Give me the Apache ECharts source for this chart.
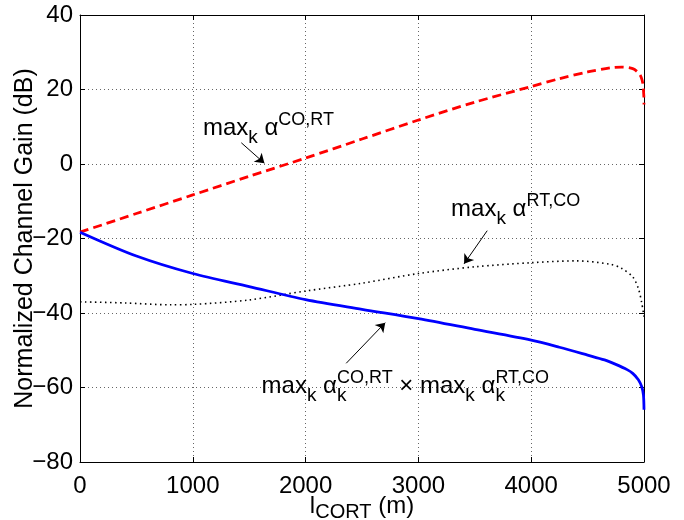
<!DOCTYPE html>
<html>
<head>
<meta charset="utf-8">
<script src="https://cdn.jsdelivr.net/npm/echarts@6/dist/echarts.min.js"></script>
<style>
  html, body { margin: 0; padding: 0; background: #fff; }
</style>
</head>
<body>
<div id="gainChart" style="width: 684px; height: 520px;"></div>
<script>
// distance along CO-RT link (m)
const xCoRt = [0, 500, 1000, 1500, 2000, 2500, 3000, 3500, 4000, 4250, 4500, 4700, 4800, 4900, 4950, 4975, 4990, 4998, 5000];
const yCoRt = [-18.3, -13.3, -8.3, -3.3, 1.6, 6.7, 11.8, 16.6, 20.8, 22.9, 24.7, 25.8, 26.0, 25.6, 24.5, 23.3, 21.5, 18.5, 16.0];

const xRtCo = [0, 400, 800, 1000, 1500, 2000, 2500, 3000, 3500, 4000, 4400, 4700, 4800, 4900, 4950, 4980, 5000];
const yRtCo = [-37.0, -37.3, -37.8, -37.7, -36.5, -34.1, -32.0, -29.4, -27.6, -26.5, -26.0, -26.9, -28.0, -30.3, -33.4, -37.3, -41.0];

const xProd = [0, 500, 1000, 1500, 2000, 2500, 3000, 3500, 4000, 4250, 4500, 4650, 4750, 4850, 4900, 4950, 4980, 4995, 5000];
const yProd = [-18.3, -24.7, -29.4, -32.9, -36.4, -39.0, -41.5, -44.4, -47.3, -49.2, -51.3, -52.6, -53.8, -55.2, -56.2, -57.9, -59.8, -62.0, -66.0];

const xTicks = [0, 5000, 1000];
const yTicks = [-80, 40, 20];

// arrows: [from, to] in data coords
const arrowCoRt = [[1430, 5.7], [1635, 0.2]];
const arrowRtCo = [[3610, -17.9], [3405, -26.8]];
const arrowProd = [[2360, -53.5], [2706, -42.6]];

const FONT = "'Liberation Sans', Arial, Helvetica, sans-serif";

function pairs(xs, ys) {
  let out = [];
  for (let i = 0; i < xs.length; i++) out.push([xs[i], ys[i]]);
  return out;
}

function tickFmt(v) {
  return v < 0 ? "\u2212" + (-v) : String(v);
}

let chart = echarts.init(document.getElementById("gainChart"), null, { renderer: "canvas" });

const gridLine = { show: true, lineStyle: { color: "#666", width: 1, type: [1, 3] } };
const blackLine = { show: true, onZero: false, lineStyle: { color: "#000", width: 1 } };
const inTick = { show: true, inside: true, length: 5, lineStyle: { color: "#000" } };

let option = {
  animation: false,
  backgroundColor: "#fff",
  grid: { left: 80, right: 40, top: 15, bottom: 58, containLabel: false, outerBoundsMode: "none" },
  xAxis: [
    {
      type: "value", min: xTicks[0], max: xTicks[1], interval: xTicks[2],
      axisLine: blackLine, axisTick: inTick, splitLine: gridLine,
      axisLabel: { color: "#000", fontSize: 24, fontFamily: FONT, margin: 12, formatter: tickFmt },
      name: "{a|l}{b|CORT}{a| (m)}",
      nameLocation: "middle", nameGap: 32, nameMoveOverlap: false,
      nameTextStyle: {
        color: "#000", fontFamily: FONT,
        rich: {
          a: { fontSize: 24, fontFamily: FONT, color: "#000", lineHeight: 28, verticalAlign: "top" },
          b: { fontSize: 20, fontFamily: FONT, color: "#000", lineHeight: 28, verticalAlign: "bottom" }
        }
      }
    },
    {
      type: "value", position: "top", min: xTicks[0], max: xTicks[1], interval: xTicks[2],
      axisLine: blackLine, axisTick: inTick, splitLine: { show: false }, axisLabel: { show: false }
    }
  ],
  yAxis: [
    {
      type: "value", min: yTicks[0], max: yTicks[1], interval: yTicks[2],
      axisLine: blackLine, axisTick: inTick, splitLine: gridLine,
      axisLabel: { color: "#000", fontSize: 24, fontFamily: FONT, margin: 7, formatter: tickFmt },
      name: "Normalized Channel Gain (dB)",
      nameLocation: "middle", nameGap: 42, nameMoveOverlap: false,
      nameTextStyle: { color: "#000", fontSize: 25, fontFamily: FONT }
    },
    {
      type: "value", position: "right", min: yTicks[0], max: yTicks[1], interval: yTicks[2],
      axisLine: blackLine, axisTick: inTick, splitLine: { show: false }, axisLabel: { show: false }
    }
  ],
  series: [
    {
      name: "CO,RT", type: "line", showSymbol: false, smooth: 0.3,
      data: pairs(xCoRt, yCoRt),
      lineStyle: { color: "#ff0000", width: 2.8, type: [9, 5] },
      markLine: {
        silent: true, symbol: ["none", "arrow"], symbolSize: 9,
        lineStyle: { color: "#000", width: 1, type: "solid" },
        label: { show: false },
        data: [[{ coord: arrowCoRt[0] }, { coord: arrowCoRt[1] }]]
      }
    },
    {
      name: "RT,CO", type: "line", showSymbol: false, smooth: 0.3,
      data: pairs(xRtCo, yRtCo),
      lineStyle: { color: "#000", width: 1.6, type: [1.5, 3.5] },
      markLine: {
        silent: true, symbol: ["none", "arrow"], symbolSize: 9,
        lineStyle: { color: "#000", width: 1, type: "solid" },
        label: { show: false },
        data: [[{ coord: arrowRtCo[0] }, { coord: arrowRtCo[1] }]]
      }
    },
    {
      name: "product", type: "line", showSymbol: false, smooth: 0.3,
      data: pairs(xProd, yProd),
      lineStyle: { color: "#0000ff", width: 2.8 },
      markLine: {
        silent: true, symbol: ["none", "arrow"], symbolSize: 9,
        lineStyle: { color: "#000", width: 1, type: "solid" },
        label: { show: false },
        data: [[{ coord: arrowProd[0] }, { coord: arrowProd[1] }]]
      }
    }
  ]
};

chart.setOption(option);

// annotation texts with sub/superscripts, laid out piece by piece
let measureCtx = document.createElement("canvas").getContext("2d");
function textWidth(t, size) {
  measureCtx.font = size + "px " + FONT;
  return measureCtx.measureText(t).width;
}

// parts: {t, s, dy, stay}  dy = baseline offset, stay = do not advance
function buildLabel(x0, base, parts) {
  let els = [];
  let x = x0;
  let lastX = x0;
  parts.forEach(function (p) {
    let px = p.stay ? lastX : x;
    els.push({
      type: "text",
      silent: true,
      style: {
        text: p.t, x: px, y: base + (p.dy || 0) - 0.35 * p.s,
        fontSize: p.s, fontFamily: FONT, fill: "#000",
        align: "left", verticalAlign: "middle"
      }
    });
    lastX = px;
    let w = textWidth(p.t, p.s);
    x = Math.max(x, px + w);
  });
  return els;
}

const M = 24, S = 18, K = 19;
let labelCoRt = [
  { t: "max", s: M }, { t: "k", s: K, dy: 7 }, { t: " \u03b1", s: M }, { t: "CO,RT", s: S, dy: -11 }
];
let labelRtCo = [
  { t: "max", s: M }, { t: "k", s: K, dy: 7 }, { t: " \u03b1", s: M }, { t: "RT,CO", s: S, dy: -11 }
];
let labelProd = [
  { t: "max", s: M }, { t: "k", s: K, dy: 7 }, { t: " \u03b1", s: M },
  { t: "k", s: K, dy: 7 }, { t: "CO,RT", s: S, dy: -11, stay: true },
  { t: " \u00d7 ", s: M }, { t: "max", s: M }, { t: "k", s: K, dy: 7 }, { t: " \u03b1", s: M },
  { t: "k", s: K, dy: 7 }, { t: "RT,CO", s: S, dy: -11, stay: true }
];

// anchor each label to a data position so it follows the axes
function at(x, y) {
  return chart.convertToPixel({ gridIndex: 0 }, [x, y]);
}
let a1 = at(1090, 7.2);
let a2 = at(3290, -14.5);
let a3 = at(1610, -62.0);

chart.setOption({
  graphic: [].concat(
    buildLabel(a1[0], a1[1], labelCoRt),
    buildLabel(a2[0], a2[1], labelRtCo),
    buildLabel(a3[0], a3[1], labelProd)
  )
});
</script>
</body>
</html>
